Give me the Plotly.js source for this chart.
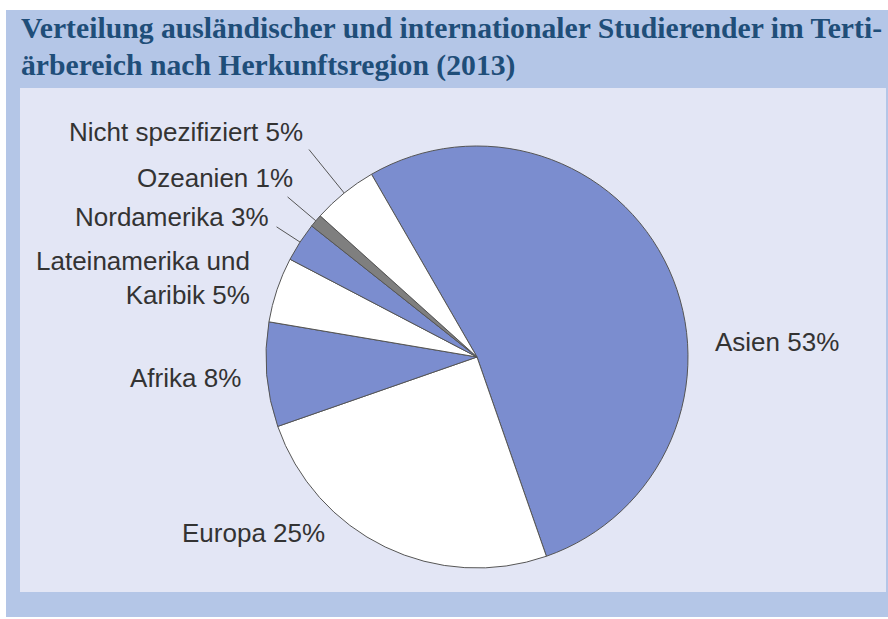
<!DOCTYPE html>
<html>
<head>
<meta charset="utf-8">
<script src="https://cdn.plot.ly/plotly-3.0.1.min.js"></script>
<style>html,body{margin:0;padding:0;background:#fff;}#chart{width:888px;height:619px;}</style>
</head>
<body>
<div id="chart"></div>
<script>
// ---- data ----
const regions = ['Asien', 'Europa', 'Afrika', 'Lateinamerika und Karibik', 'Nordamerika', 'Ozeanien', 'Nicht spezifiziert'];
const shares = [53, 25, 8, 5, 3, 1, 5];
const sliceColors = ['#7b8dcf', '#ffffff', '#7b8dcf', '#ffffff', '#7b8dcf', '#7f7f7f', '#ffffff'];
const labelLines = ['Asien', 'Europa', 'Afrika', 'Lateinamerika und<br>Karibik', 'Nordamerika', 'Ozeanien', 'Nicht spezifiziert'];
const titleLines = ['Verteilung ausländischer und internationaler Studierender im Terti-', 'ärbereich nach Herkunftsregion (2013)'];

// ---- layout constants (pixels) ----
const W = 888, H = 619;
const cx = 477, cy = 357, R = 211;
const rotation = -30;
// label anchor positions [x, y, xanchor]
const labelPos = [
  [713, 342, 'left'],
  [180, 533, 'left'],
  [243, 378, 'right'],
  [252, 278, 'right'],
  [271, 217, 'right'],
  [295, 178, 'right'],
  [305, 132, 'right']
];
const leaderLen = [0, 0, 0, 0, 28, 37, 56];
const titleBottoms = [46, 84];

const px = x => x / W;
const py = y => 1 - y / H;

const total = shares.reduce((a, b) => a + b, 0);
let cum = 0;
const shapes = [
  {type: 'rect', xref: 'paper', yref: 'paper', x0: px(6), x1: px(888), y0: py(617), y1: py(10), fillcolor: '#b4c6e7', line: {width: 0}, layer: 'below'},
  {type: 'rect', xref: 'paper', yref: 'paper', x0: px(20), x1: px(886), y0: py(592), y1: py(88), fillcolor: '#e3e6f5', line: {width: 0}, layer: 'below'}
];
const annotations = [];
shares.forEach((v, i) => {
  const mid = (rotation + (cum + v / 2) / total * 360) * Math.PI / 180;
  cum += v;
  if (leaderLen[i] > 0) {
    const x0 = cx + R * Math.sin(mid), y0 = cy - R * Math.cos(mid);
    const x1 = cx + (R + leaderLen[i]) * Math.sin(mid), y1 = cy - (R + leaderLen[i]) * Math.cos(mid);
    shapes.push({type: 'line', xref: 'paper', yref: 'paper', x0: px(x0), y0: py(y0), x1: px(x1), y1: py(y1), line: {color: '#555', width: 1}});
  }
  const p = labelPos[i];
  annotations.push({
    xref: 'paper', yref: 'paper', x: px(p[0]), y: py(p[1]), xanchor: p[2], yanchor: 'middle',
    text: labelLines[i] + ' ' + v + '%', showarrow: false, align: p[2],
    font: {family: 'Liberation Sans, Arial, sans-serif', size: 26, color: '#333333'}
  });
});
titleLines.forEach((t, i) => {
  annotations.push({
    xref: 'paper', yref: 'paper', x: px(19), y: py(titleBottoms[i]), xanchor: 'left', yanchor: 'bottom',
    text: '<b>' + t + '</b>', showarrow: false,
    font: {family: 'Liberation Serif, Times New Roman, serif', size: 29.7, color: '#1f4e79'}
  });
});

const trace = {
  type: 'pie',
  labels: regions,
  values: shares,
  sort: false,
  direction: 'clockwise',
  rotation: rotation,
  textinfo: 'none',
  hoverinfo: 'label+percent',
  marker: {colors: sliceColors, line: {color: '#555555', width: 1}},
  domain: {x: [px(cx - R), px(cx + R)], y: [py(cy + R), py(cy - R)]},
  showlegend: false
};

Plotly.newPlot('chart', [trace], {
  width: W, height: H,
  margin: {l: 0, r: 0, t: 0, b: 0},
  paper_bgcolor: '#ffffff',
  showlegend: false,
  shapes: shapes,
  annotations: annotations
}, {displayModeBar: false, staticPlot: true});
</script>
</body>
</html>
